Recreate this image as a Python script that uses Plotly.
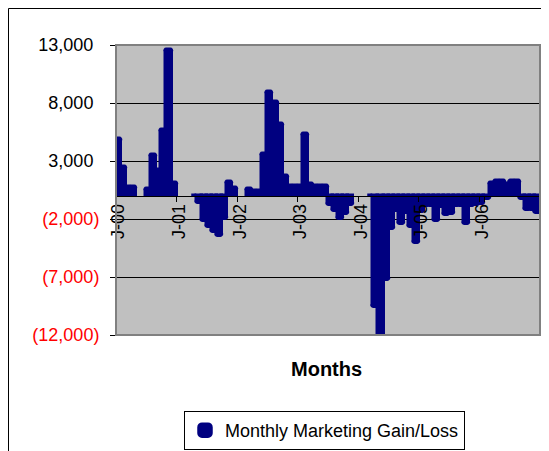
import plotly.graph_objects as go

YEARS = ["00", "01", "02", "03", "04", "05", "06"]
MONTHS = ["Jan", "Feb", "Mar", "Apr", "May", "Jun", "Jul", "Aug", "Sep", "Oct", "Nov", "Dec"]
categories = [f"{m}-{y}" for y in YEARS for m in MONTHS]

gain_2000 = [4900, 2500, 800, 800, None, None, 600, 3500, 2200, 5700, 12600, 1100]
gain_2001 = [None, None, None, -50, -600, -2150, -2700, -3150, -3450, -2000, 1150, 700]
gain_2002 = [None, None, 550, 380, 380, 3600, 8950, 8050, 6200, 1750, 880, 880]
gain_2003 = [880, 5350, 1030, 830, 830, 830, -750, -1330, -2030, -1600, -750, None]
gain_2004 = [None, None, -50, -9600, -12600, -7300, -2900, -1300, -2400, -1500, -2700, -4100]
gain_2005 = [-1400, -900, -900, -2200, -1000, -1650, -1600, -900, -900, -2400, -900, -800]
gain_2006 = [-700, -300, 1100, 1250, 1250, 1050, 1300, 1300, -300, -1200, -1200, -1500]
values = gain_2000 + gain_2001 + gain_2002 + gain_2003 + gain_2004 + gain_2005 + gain_2006

x_tick_cats = [f"Jan-{y}" for y in YEARS]
x_tick_text = [f"J-{y}" for y in YEARS]

y_ticks = [-12000, -7000, -2000, 3000, 8000, 13000]
y_tick_text = ["(12,000)", "(7,000)", "(2,000)", "3,000", "8,000", "13,000"]
# accounting format: positives keep an invisible ")" so digits line up
y_tick_html = [f"<span style='color:#ff0000'>{t}</span>" if v < 0
               else f"{t}<span style='color:rgba(0,0,0,0)'>)</span>"
               for v, t in zip(y_ticks, y_tick_text)]

NAVY = "#000080"
FONT = "Liberation Sans, Arial, sans-serif"

# page body has an 8px margin: the figure's origin sits at screen (8, 8)
OFF = 8
W, H = 549 - OFF, 451 - OFF
L, T = 116 - OFF, 45 - OFF
PW, PH = 424, 290
R, B = W - L - PW, H - T - PH

def px(sx):
    return (sx - OFF - L) / PW

def py(sy):
    return (T + PH - (sy - OFF)) / PH

fig = go.Figure()
fig.add_trace(go.Bar(
    x=categories, y=values, name="Monthly Marketing Gain/Loss",
    marker=dict(color=NAVY, line=dict(color=NAVY, width=3.5), cornerradius=2),
))

y0 = (0 - y_ticks[0]) / (y_ticks[-1] - y_ticks[0])

fig.update_layout(
    width=W, height=H,
    margin=dict(l=L, r=R, t=T, b=B, autoexpand=False),
    paper_bgcolor="white", plot_bgcolor="#c0c0c0",
    bargap=0,
    font=dict(family=FONT, size=18, color="black"),
    showlegend=True,
    legend=dict(
        x=px(184), y=py(411), xanchor="left", yanchor="top",
        bordercolor="black", borderwidth=1, bgcolor="white",
        font=dict(family=FONT, size=18),
    ),
    xaxis=dict(
        type="category", categoryorder="array", categoryarray=categories,
        range=[-0.5, len(categories) - 0.5],
        anchor="free", position=y0,
        showline=True, linecolor="black", linewidth=1,
        showgrid=False, zeroline=False,
        tickmode="array", tickvals=x_tick_cats, ticktext=x_tick_text,
        tickangle=-90, ticks="outside", ticklen=5, tickcolor="black",
        tickson="boundaries",
        tickfont=dict(family=FONT, size=18, color="black"),
    ),
    yaxis=dict(
        range=[y_ticks[0], y_ticks[-1]],
        tickmode="array", tickvals=y_ticks, ticktext=y_tick_html,
        showline=True, linecolor="black", linewidth=1,
        showgrid=True, gridcolor="black", gridwidth=1,
        zeroline=False,
        ticks="outside", ticklen=5, tickcolor="black",
        ticklabelstandoff=7,
        tickfont=dict(family=FONT, size=18, color="black"),
    ),
    shapes=[
        dict(type="rect", xref="paper", yref="paper", x0=0, x1=1, y0=0, y1=1,
             line=dict(color="#808080", width=2), layer="above"),
        dict(type="rect", xref="paper", yref="paper",
             x0=px(8.5), x1=px(547.5), y0=py(470), y1=py(8.5),
             line=dict(color="black", width=1)),
    ],
    annotations=[
        dict(text="<b>Months</b>", xref="paper", yref="paper",
             x=px(326.5), y=py(369), xanchor="center", yanchor="middle",
             showarrow=False, font=dict(family=FONT, size=20, color="black")),
    ],
)

fig.write_html("out.html")
